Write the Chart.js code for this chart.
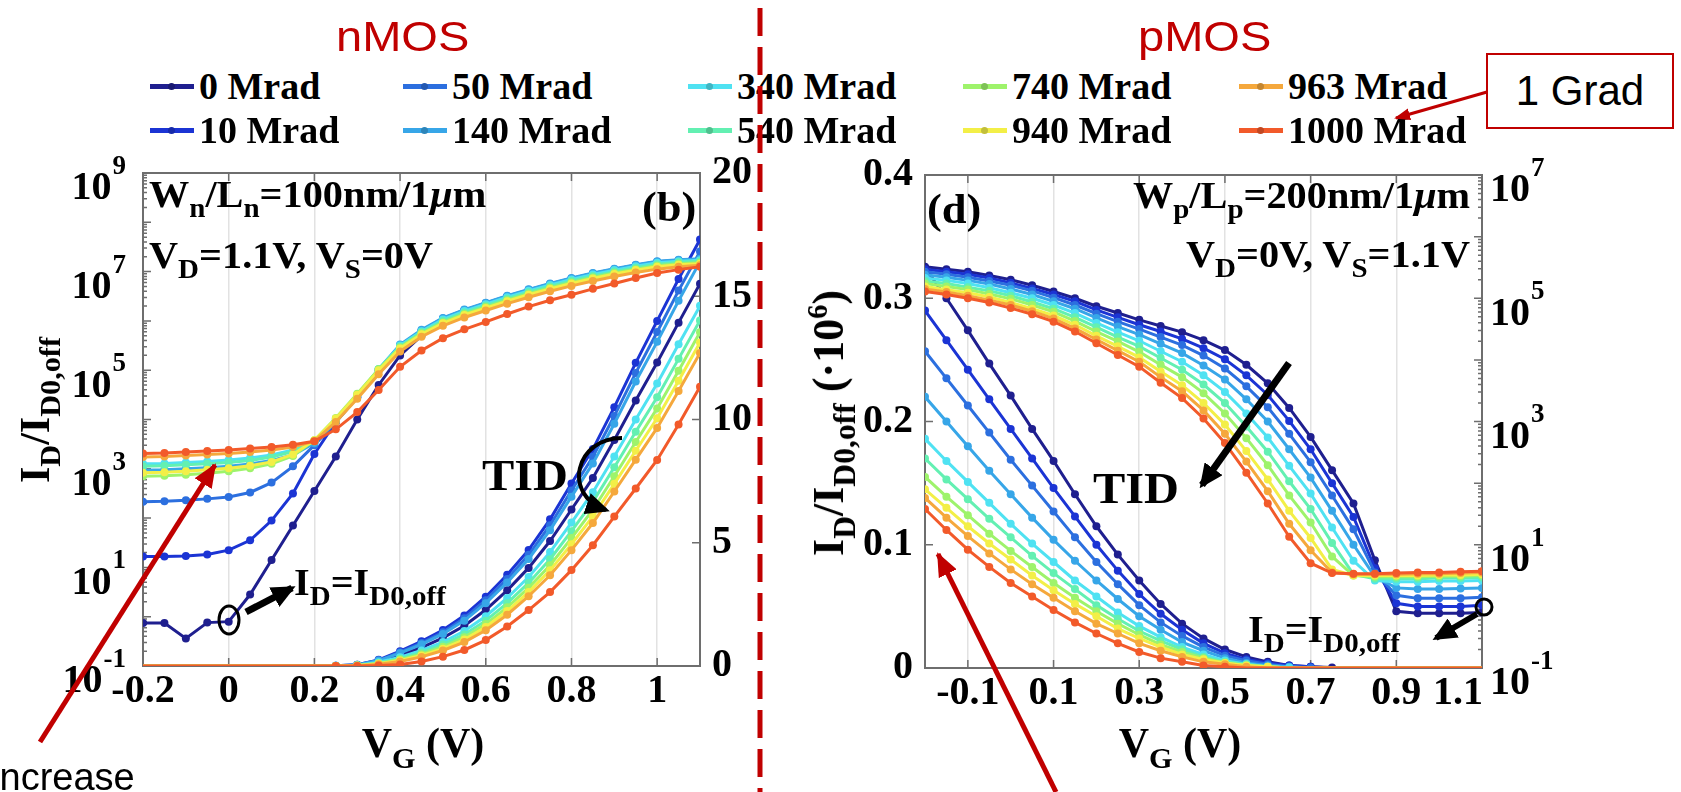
<!DOCTYPE html>
<html>
<head>
<meta charset="utf-8">
<script src="https://cdn.jsdelivr.net/npm/chart.js@4.4.1/dist/chart.umd.min.js"></script>
<style>
  html, body { margin: 0; padding: 0; background: #fff; }
  #page { position: relative; width: 1681px; height: 792px; overflow: hidden; background: #fff; }
  canvas { position: absolute; }
  .t { position: absolute; white-space: nowrap; line-height: 1; font-family: "Liberation Serif", "Times New Roman", serif; font-weight: bold; color: #000; }
  .t sub { font-size: 0.72em; vertical-align: -0.38em; line-height: 0; }
  .t sup { font-size: 0.65em; vertical-align: 0.55em; line-height: 0; }
  .st { transform: scaleX(1.06); transform-origin: left top; }
  .stR { transform: scaleX(1.06); transform-origin: right top; }
  .sans { font-family: "Liberation Sans", Arial, sans-serif; font-weight: normal; }
  .red { color: #c00000; }
  .lgLine { position: absolute; width: 44px; height: 5px; }
  .lgDot { position: absolute; width: 7px; height: 7px; border-radius: 50%; }
  #grad { position: absolute; left: 1486px; top: 53px; width: 184px; height: 72px; border: 2px solid #c00000; display: flex; align-items: center; justify-content: center; font-family: "Liberation Sans", Arial, sans-serif; font-size: 42px; }
  svg { position: absolute; left: 0; top: 0; }
</style>
</head>
<body>
<div id="page">
  <canvas id="nmosChart" width="770" height="642" style="left:0;top:150px"></canvas>
  <canvas id="pmosChart" width="911" height="642" style="left:770px;top:150px"></canvas>

  <div class="t sans red" style="left:336px;top:16px;font-size:42px;transform:scaleX(1.12);transform-origin:left top">nMOS</div>
  <div class="t sans red" style="left:1138px;top:16px;font-size:42px;transform:scaleX(1.12);transform-origin:left top">pMOS</div>

  <div id="legend"></div>

  <!-- nMOS texts -->
  <div class="t st" style="left:149px;top:175px;font-size:38px">W<sub>n</sub>/L<sub>n</sub>=100nm/1<i>μ</i>m</div>
  <div class="t st" style="left:149px;top:236px;font-size:38px">V<sub>D</sub>=1.1V, V<sub>S</sub>=0V</div>
  <div class="t st" style="left:642px;top:186px;font-size:42px">(b)</div>
  <div class="t" style="left:482px;top:454px;font-size:44px;transform:scaleX(1.1);transform-origin:left top">TID</div>
  <div class="t st" style="left:294px;top:563px;font-size:38px">I<sub>D</sub>=I<sub>D0,off</sub></div>
  <div class="t" style="left:35px;top:410px;font-size:42px;transform:translate(-50%,-50%) rotate(-90deg)">I<sub>D</sub>/I<sub>D0,off</sub></div>
  <div class="t" style="left:423px;top:722px;font-size:42px;transform:translateX(-50%)">V<sub>G</sub> (V)</div>

  <!-- pMOS texts -->
  <div class="t st" style="left:927px;top:188px;font-size:42px">(d)</div>
  <div class="t stR" style="right:211px;top:176px;font-size:38px">W<sub>p</sub>/L<sub>p</sub>=200nm/1<i>μ</i>m</div>
  <div class="t stR" style="right:211px;top:235px;font-size:38px">V<sub>D</sub>=0V, V<sub>S</sub>=1.1V</div>
  <div class="t" style="left:1093px;top:467px;font-size:44px;transform:scaleX(1.1);transform-origin:left top">TID</div>
  <div class="t st" style="left:1248px;top:610px;font-size:38px">I<sub>D</sub>=I<sub>D0,off</sub></div>
  <div class="t" style="left:829px;top:423px;font-size:44px;transform:translate(-50%,-50%) rotate(-90deg)">I<sub>D</sub>/I<sub>D0,off</sub> (·10<sup>6</sup>)</div>
  <div class="t" style="left:1180px;top:722px;font-size:42px;transform:translateX(-50%)">V<sub>G</sub> (V)</div>

  <div id="grad">1 Grad</div>
  <div class="t sans" style="left:-11px;top:758px;font-size:38px">Increase</div>

  <svg width="1681" height="792">
    <defs>
      <marker id="headRed" markerUnits="userSpaceOnUse" markerWidth="24" markerHeight="20" refX="22" refY="10" orient="auto">
        <path d="M0,0 L24,10 L0,20 z" fill="#c00000"/>
      </marker>
      <marker id="headRedSmall" markerUnits="userSpaceOnUse" markerWidth="16" markerHeight="12" refX="14" refY="6" orient="auto">
        <path d="M0,0 L16,6 L0,12 z" fill="#c00000"/>
      </marker>
      <marker id="headBlack" markerUnits="userSpaceOnUse" markerWidth="24" markerHeight="22" refX="20" refY="11" orient="auto">
        <path d="M0,0 L24,11 L0,22 z" fill="#000"/>
      </marker>
    </defs>
    <line x1="760" y1="8" x2="760" y2="792" stroke="#c00000" stroke-width="5" stroke-dasharray="28 11"/>
    <line x1="40" y1="742" x2="215" y2="465" stroke="#c00000" stroke-width="5" marker-end="url(#headRed)"/>
    <line x1="1056" y1="792" x2="938" y2="554" stroke="#c00000" stroke-width="5" marker-end="url(#headRed)"/>
    <line x1="1487" y1="92" x2="1396" y2="118" stroke="#c00000" stroke-width="3" marker-end="url(#headRedSmall)"/>
    <ellipse cx="229" cy="620" rx="10" ry="14" fill="none" stroke="#000" stroke-width="3"/>
    <line x1="246" y1="612" x2="292" y2="588" stroke="#000" stroke-width="7" marker-end="url(#headBlack)"/>
    <path d="M622 438 C 575 438, 562 495, 606 510" fill="none" stroke="#000" stroke-width="4" marker-end="url(#headBlack)"/>
    <line x1="1289" y1="363" x2="1202" y2="485" stroke="#000" stroke-width="7" marker-end="url(#headBlack)"/>
    <circle cx="1484" cy="607" r="8" fill="none" stroke="#000" stroke-width="3"/>
    <line x1="1477" y1="614" x2="1436" y2="638" stroke="#000" stroke-width="6" marker-end="url(#headBlack)"/>
  </svg>
</div>

<script>
// gate voltage points (V)
const vgVolts = [-0.2, -0.15, -0.1, -0.05, 0, 0.05, 0.1, 0.15, 0.2, 0.25, 0.3, 0.35, 0.4, 0.45, 0.5,
  0.55, 0.6, 0.65, 0.7, 0.75, 0.8, 0.85, 0.9, 0.95, 1, 1.05, 1.1];

const doseLabels = ['0 Mrad', '10 Mrad', '50 Mrad', '140 Mrad', '340 Mrad', '540 Mrad', '740 Mrad', '940 Mrad', '963 Mrad', '1000 Mrad'];
const doseColors = ['#1f1f8f', '#1b34d4', '#2c6fdf', '#37a6e8', '#4fe2f2', '#63f0b2', '#9ef36b', '#f3ef47', '#f5a83c', '#f25a2a'];

// nMOS, log10 of ID/ID0,off (left log axis), one row per dose
const nmosLogDecades = [
  [-0.13, -0.13, -0.44, -0.12, -0.10, 0.45, 1.15, 1.85, 2.55, 3.25, 4.0, 4.7, 5.3, 5.7, 6.0, 6.2, 6.34, 6.48, 6.6, 6.72, 6.83, 6.93, 7.02, 7.1, 7.17, 7.2, 7.22],
  [1.22, 1.22, 1.23, 1.26, 1.35, 1.55, 1.95, 2.5, 3.3, 3.95, 4.45, 5.0, 5.5, 5.8, 6.05, 6.22, 6.36, 6.5, 6.63, 6.75, 6.86, 6.96, 7.05, 7.13, 7.2, 7.23, 7.25],
  [2.33, 2.34, 2.36, 2.39, 2.43, 2.52, 2.72, 3.05, 3.48, 3.95, 4.45, 5.0, 5.5, 5.8, 6.04, 6.21, 6.35, 6.49, 6.62, 6.74, 6.85, 6.95, 7.04, 7.12, 7.19, 7.22, 7.24],
  [2.97, 2.98, 3.0, 3.02, 3.05, 3.1, 3.17, 3.28, 3.52, 3.96, 4.47, 5.02, 5.52, 5.82, 6.06, 6.23, 6.37, 6.51, 6.64, 6.76, 6.87, 6.97, 7.06, 7.14, 7.21, 7.24, 7.26],
  [3.10, 3.11, 3.13, 3.15, 3.18, 3.22, 3.28, 3.38, 3.56, 3.98, 4.48, 5.02, 5.5, 5.79, 6.03, 6.2, 6.34, 6.48, 6.61, 6.73, 6.84, 6.94, 7.03, 7.11, 7.18, 7.21, 7.23],
  [3.05, 3.06, 3.08, 3.1, 3.13, 3.17, 3.24, 3.35, 3.56, 4.0, 4.5, 5.02, 5.48, 5.77, 6.0, 6.17, 6.31, 6.45, 6.58, 6.7, 6.81, 6.91, 7.0, 7.08, 7.15, 7.19, 7.21],
  [2.85, 2.86, 2.88, 2.91, 2.95, 3.01, 3.1, 3.26, 3.58, 4.03, 4.52, 5.02, 5.46, 5.75, 5.97, 6.14, 6.28, 6.42, 6.55, 6.67, 6.78, 6.88, 6.97, 7.05, 7.12, 7.16, 7.18],
  [2.92, 2.93, 2.95, 2.98, 3.01, 3.06, 3.14, 3.29, 3.58, 4.02, 4.5, 5.0, 5.44, 5.73, 5.95, 6.12, 6.26, 6.4, 6.53, 6.65, 6.76, 6.86, 6.95, 7.03, 7.1, 7.14, 7.16],
  [3.24, 3.25, 3.27, 3.29, 3.31, 3.34, 3.38, 3.44, 3.56, 3.95, 4.42, 4.92, 5.38, 5.68, 5.9, 6.07, 6.21, 6.35, 6.48, 6.6, 6.71, 6.81, 6.9, 6.98, 7.05, 7.1, 7.13],
  [3.31, 3.32, 3.34, 3.36, 3.38, 3.41, 3.44, 3.49, 3.56, 3.8, 4.15, 4.6, 5.07, 5.4, 5.65, 5.83, 5.98, 6.14, 6.29, 6.42, 6.53, 6.65, 6.76, 6.87, 6.97, 7.04, 7.1]
];

// nMOS, ID/ID0,off on the right linear axis
const nmosLinear = [
  [0, 0, 0, 0, 0, 0, 0, 0, 0, 0.004, 0.03, 0.18, 0.44, 0.75, 1.14, 1.63, 2.28, 3.07, 3.98, 5.07, 6.35, 7.63, 9.17, 10.77, 12.31, 13.93, 15.51],
  [0, 0, 0, 0, 0, 0, 0, 0, 0, 0.008, 0.05, 0.25, 0.6, 1.0, 1.46, 2.05, 2.81, 3.7, 4.71, 5.95, 7.4, 8.8, 10.5, 12.3, 14.0, 15.7, 17.3],
  [0, 0, 0, 0, 0, 0, 0, 0, 0, 0.008, 0.05, 0.23, 0.56, 0.93, 1.37, 1.94, 2.67, 3.53, 4.51, 5.71, 7.12, 8.49, 10.14, 11.89, 13.55, 15.23, 16.82],
  [0, 0, 0, 0, 0, 0, 0, 0, 0, 0.007, 0.04, 0.22, 0.52, 0.88, 1.3, 1.84, 2.55, 3.39, 4.34, 5.51, 6.87, 8.22, 9.83, 11.54, 13.15, 14.82, 16.4],
  [0, 0, 0, 0, 0, 0, 0, 0, 0, 0.006, 0.03, 0.15, 0.36, 0.63, 0.97, 1.42, 2.02, 2.76, 3.61, 4.62, 5.82, 7.05, 8.5, 10.0, 11.46, 13.05, 14.61],
  [0, 0, 0, 0, 0, 0, 0, 0, 0, 0.005, 0.02, 0.12, 0.3, 0.55, 0.87, 1.28, 1.84, 2.55, 3.37, 4.33, 5.47, 6.66, 8.06, 9.5, 10.9, 12.46, 14.02],
  [0, 0, 0, 0, 0, 0, 0, 0, 0, 0.005, 0.02, 0.1, 0.26, 0.48, 0.78, 1.17, 1.7, 2.38, 3.17, 4.09, 5.19, 6.34, 7.7, 9.09, 10.45, 11.98, 13.54],
  [0, 0, 0, 0, 0, 0, 0, 0, 0, 0.004, 0.02, 0.09, 0.22, 0.43, 0.7, 1.07, 1.58, 2.23, 3.0, 3.88, 4.94, 6.07, 7.39, 8.73, 10.05, 11.57, 13.12],
  [0, 0, 0, 0, 0, 0, 0, 0, 0, 0.003, 0.01, 0.07, 0.18, 0.37, 0.63, 0.97, 1.45, 2.08, 2.83, 3.68, 4.7, 5.8, 7.08, 8.37, 9.66, 11.16, 12.7],
  [0, 0, 0, 0, 0, 0, 0, 0, 0, 0.002, 0.004, 0.02, 0.06, 0.18, 0.38, 0.65, 1.05, 1.6, 2.27, 3.0, 3.89, 4.9, 6.06, 7.2, 8.36, 9.8, 11.33]
];

// pMOS, ID/ID0,off (x1e6) on the left linear axis
const pmosLinear = [
  [0.325, 0.300, 0.274, 0.247, 0.221, 0.194, 0.168, 0.141, 0.115, 0.092, 0.071, 0.052, 0.036, 0.024, 0.015, 0.009, 0.005, 0.002, 0.001, 0.0004, 0, 0, 0, 0, 0, 0, 0],
  [0.290, 0.266, 0.242, 0.218, 0.194, 0.170, 0.146, 0.123, 0.100, 0.079, 0.060, 0.044, 0.031, 0.020, 0.012, 0.007, 0.004, 0.002, 0.001, 0, 0, 0, 0, 0, 0, 0, 0],
  [0.257, 0.235, 0.213, 0.191, 0.169, 0.148, 0.127, 0.106, 0.086, 0.068, 0.051, 0.037, 0.026, 0.017, 0.010, 0.006, 0.003, 0.001, 0.0005, 0, 0, 0, 0, 0, 0, 0, 0],
  [0.220, 0.200, 0.180, 0.160, 0.141, 0.122, 0.104, 0.087, 0.071, 0.056, 0.042, 0.031, 0.021, 0.014, 0.008, 0.004, 0.002, 0.001, 0, 0, 0, 0, 0, 0, 0, 0, 0],
  [0.186, 0.168, 0.151, 0.134, 0.117, 0.101, 0.086, 0.071, 0.058, 0.045, 0.034, 0.025, 0.017, 0.011, 0.006, 0.003, 0.001, 0.0005, 0, 0, 0, 0, 0, 0, 0, 0, 0],
  [0.170, 0.153, 0.137, 0.121, 0.106, 0.091, 0.077, 0.064, 0.051, 0.040, 0.030, 0.022, 0.015, 0.009, 0.005, 0.003, 0.001, 0, 0, 0, 0, 0, 0, 0, 0, 0, 0],
  [0.155, 0.139, 0.124, 0.109, 0.095, 0.082, 0.069, 0.057, 0.046, 0.036, 0.027, 0.019, 0.013, 0.008, 0.004, 0.002, 0.001, 0, 0, 0, 0, 0, 0, 0, 0, 0, 0],
  [0.145, 0.130, 0.115, 0.101, 0.088, 0.075, 0.063, 0.052, 0.042, 0.032, 0.024, 0.017, 0.011, 0.007, 0.004, 0.002, 0.001, 0, 0, 0, 0, 0, 0, 0, 0, 0, 0],
  [0.138, 0.122, 0.107, 0.093, 0.080, 0.068, 0.057, 0.046, 0.036, 0.028, 0.020, 0.014, 0.009, 0.005, 0.003, 0.001, 0, 0, 0, 0, 0, 0, 0, 0, 0, 0, 0],
  [0.129, 0.112, 0.096, 0.082, 0.069, 0.058, 0.047, 0.037, 0.028, 0.020, 0.013, 0.008, 0.005, 0.002, 0.001, 0, 0, 0, 0, 0, 0, 0, 0, 0, 0, 0, 0]
];

// pMOS, log10 of ID/ID0,off (right log axis)
const pmosLogDecades = [
  [5.51, 5.47, 5.43, 5.37, 5.30, 5.21, 5.11, 5.0, 4.87, 4.76, 4.65, 4.55, 4.45, 4.32, 4.16, 3.92, 3.62, 3.22, 2.75, 2.21, 1.67, 0.75, -0.08, -0.11, -0.11, -0.11, -0.1],
  [5.47, 5.43, 5.39, 5.33, 5.25, 5.16, 5.06, 4.95, 4.81, 4.69, 4.57, 4.46, 4.34, 4.19, 4.01, 3.75, 3.43, 3.01, 2.55, 2.0, 1.45, 0.62, 0.05, 0.0, 0.0, 0.0, 0.02],
  [5.43, 5.39, 5.34, 5.28, 5.21, 5.12, 5.01, 4.89, 4.75, 4.62, 4.50, 4.37, 4.24, 4.07, 3.86, 3.57, 3.23, 2.80, 2.34, 1.8, 1.25, 0.55, 0.18, 0.13, 0.13, 0.13, 0.15],
  [5.38, 5.34, 5.29, 5.23, 5.15, 5.06, 4.95, 4.83, 4.68, 4.54, 4.41, 4.26, 4.11, 3.91, 3.68, 3.36, 3.0, 2.55, 2.09, 1.55, 1.0, 0.48, 0.3, 0.28, 0.28, 0.29, 0.3],
  [5.33, 5.29, 5.24, 5.17, 5.09, 5.0, 4.89, 4.76, 4.6, 4.45, 4.31, 4.14, 3.97, 3.75, 3.48, 3.13, 2.74, 2.28, 1.83, 1.28, 0.74, 0.42, 0.4, 0.4, 0.41, 0.41, 0.42],
  [5.28, 5.24, 5.18, 5.12, 5.04, 4.94, 4.83, 4.69, 4.53, 4.37, 4.22, 4.03, 3.84, 3.60, 3.30, 2.92, 2.51, 2.03, 1.58, 1.03, 0.52, 0.45, 0.45, 0.45, 0.46, 0.46, 0.47],
  [5.24, 5.19, 5.14, 5.07, 4.99, 4.89, 4.78, 4.63, 4.46, 4.30, 4.13, 3.92, 3.72, 3.46, 3.13, 2.73, 2.29, 1.80, 1.36, 0.81, 0.5, 0.48, 0.48, 0.48, 0.49, 0.49, 0.5],
  [5.19, 5.14, 5.09, 5.02, 4.93, 4.83, 4.72, 4.57, 4.39, 4.22, 4.04, 3.81, 3.59, 3.30, 2.95, 2.52, 2.06, 1.55, 1.11, 0.6, 0.5, 0.5, 0.5, 0.5, 0.51, 0.51, 0.52],
  [5.15, 5.10, 5.04, 4.97, 4.89, 4.79, 4.67, 4.51, 4.33, 4.15, 3.97, 3.72, 3.49, 3.18, 2.80, 2.35, 1.87, 1.34, 0.91, 0.55, 0.52, 0.52, 0.52, 0.53, 0.53, 0.54, 0.55],
  [5.11, 5.06, 5.0, 4.93, 4.84, 4.74, 4.62, 4.46, 4.27, 4.08, 3.89, 3.63, 3.38, 3.05, 2.65, 2.17, 1.67, 1.13, 0.70, 0.54, 0.53, 0.53, 0.54, 0.55, 0.55, 0.56, 0.57]
];

// tick labels
const nmosXTicks = [-0.2, 0, 0.2, 0.4, 0.6, 0.8, 1];
const pmosXTicks = [-0.1, 0.1, 0.3, 0.5, 0.7, 0.9, 1.1];
const nmosLinTicks = [0, 5, 10, 15, 20];
const pmosLinTicks = [0, 0.1, 0.2, 0.3, 0.4];
const nmosLogExps = [-1, 1, 3, 5, 7, 9];
const pmosLogExps = [-1, 1, 3, 5, 7];

// legend (html)
const legendCols = [150, 403, 688, 963, 1239];
const legendRows = [86, 130];
const legend = document.getElementById('legend');
doseLabels.forEach(function (lab, k) {
  const x = legendCols[Math.floor(k / 2)], y = legendRows[k % 2];
  legend.insertAdjacentHTML('beforeend',
    '<div class="lgLine" style="left:' + x + 'px;top:' + (y - 2.5) + 'px;background:' + doseColors[k] + '"></div>' +
    '<div class="lgDot" style="left:' + (x + 18) + 'px;top:' + (y - 3.5) + 'px;background:' + doseColors[k] + ';filter:brightness(0.8)"></div>' +
    '<div class="t" style="left:' + (x + 49) + 'px;top:' + (y - 19) + 'px;font-size:38px">' + lab + '</div>');
});

const serif = '"Liberation Serif", "Times New Roman", serif';

function makeSets(rows, axisId, asLog) {
  return rows.map(function (vals, k) {
    return {
      label: doseLabels[k],
      data: vgVolts.map(function (v, i) { return { x: v, y: asLog ? Math.pow(10, vals[i]) : vals[i] }; }),
      yAxisID: axisId,
      borderColor: doseColors[k],
      backgroundColor: doseColors[k],
      borderWidth: 3,
      pointRadius: function (c) { return c.raw && c.raw.y > 0 ? 4 : 0; },
      pointBorderWidth: 0,
      order: 9 - k
    };
  });
}

// frame, inward ticks and 10^n labels (MATLAB look)
const axisDecor = {
  id: 'axisDecor',
  beforeDatasetsDraw(chart, args, o) {
    const ctx = chart.ctx, a = chart.chartArea;
    const xs = chart.scales.x, lg = chart.scales[o.logId], ln = chart.scales[o.linId];
    ctx.save();
    ctx.strokeStyle = '#6e6e6e';
    ctx.lineWidth = 1.5;
    ctx.beginPath();
    xs.ticks.forEach(function (t) {
      const px = xs.getPixelForValue(t.value);
      ctx.moveTo(px, a.bottom); ctx.lineTo(px, a.bottom - 8);
      ctx.moveTo(px, a.top); ctx.lineTo(px, a.top + 8);
    });
    const linX = o.logSide === 'left' ? a.right : a.left;
    const dir = o.logSide === 'left' ? -1 : 1;
    ln.ticks.forEach(function (t) {
      const py = ln.getPixelForValue(t.value);
      ctx.moveTo(linX, py); ctx.lineTo(linX + dir * 8, py);
    });
    const logX = o.logSide === 'left' ? a.left : a.right;
    for (let e = Math.round(Math.log10(lg.min)); e < Math.round(Math.log10(lg.max)); e++) {
      for (let m = 1; m < 10; m++) {
        const py = lg.getPixelForValue(m * Math.pow(10, e));
        ctx.moveTo(logX, py); ctx.lineTo(logX - dir * (m === 1 ? 8 : 4), py);
      }
    }
    ctx.stroke();
    ctx.lineWidth = 2;
    ctx.strokeRect(a.left, a.top, a.right - a.left, a.bottom - a.top);
    ctx.restore();
  },
  afterDraw(chart, args, o) {
    const ctx = chart.ctx, a = chart.chartArea, lg = chart.scales[o.logId];
    ctx.save();
    ctx.fillStyle = '#000';
    ctx.textBaseline = 'middle';
    o.exps.forEach(function (e) {
      const py = lg.getPixelForValue(Math.pow(10, e));
      ctx.font = 'bold 40px ' + serif;
      const wb = ctx.measureText('10').width;
      ctx.font = 'bold 27px ' + serif;
      const we = ctx.measureText(String(e)).width;
      const x0 = o.logSide === 'left' ? a.left - 18 - we - wb : a.right + 8;
      ctx.font = 'bold 40px ' + serif;
      ctx.fillText('10', x0, py + 16);
      ctx.font = 'bold 27px ' + serif;
      ctx.fillText(String(e), x0 + wb + 1, py - 6);
    });
    ctx.restore();
  }
};

function tickFont() { return { family: serif, size: 40, weight: 'bold' }; }

// keep the plot box where the picture has it (no extra room for edge labels)
function noEdgePad(s) { s.paddingTop = 0; s.paddingBottom = 0; }

// the last pMOS label sits left of its tick in the picture: pad it with trailing spaces
function xLabel(v) { return v === 1.1 ? '1.1\u2003\u2009' : String(v); }

function buildChart(id, o) {
  const scales = {
    x: {
      type: 'linear', min: -0.2, max: 1.1,
      afterBuildTicks: function (s) { s.ticks = o.xTicks.map(function (v) { return { value: v }; }); },
      afterFit: function (s) { s.height = o.xHeight; s.paddingLeft = 0; s.paddingRight = 0; },
      ticks: { color: '#000', font: tickFont(), padding: 2, maxRotation: 0, autoSkip: false, callback: xLabel },
      grid: { color: '#e2e2e2', lineWidth: 1.5, drawTicks: false },
      border: { display: false }
    }
  };
  scales[o.logId] = {
    type: 'logarithmic', position: o.logSide, min: o.logMin, max: o.logMax,
    afterFit: function (s) { s.width = o.logWidth; noEdgePad(s); },
    ticks: { display: false },
    grid: { display: false, drawTicks: false },
    border: { display: false }
  };
  scales[o.linId] = {
    type: 'linear', position: o.logSide === 'left' ? 'right' : 'left', min: o.linMin, max: o.linMax,
    afterBuildTicks: function (s) { s.ticks = o.linTicks.map(function (v) { return { value: v }; }); },
    afterFit: function (s) { s.width = o.linWidth; noEdgePad(s); },
    ticks: { color: '#000', font: tickFont(), padding: 12, callback: function (v) { return String(v); } },
    grid: { display: false, drawTicks: false },
    border: { display: false }
  };
  return new Chart(document.getElementById(id), {
    type: 'line',
    data: { datasets: o.sets },
    options: {
      responsive: false,
      animation: false,
      events: [],
      layout: { padding: { top: o.padTop, left: 0, right: 0, bottom: 0 } },
      scales: scales,
      plugins: {
        legend: { display: false },
        tooltip: { enabled: false },
        axisDecor: { logId: o.logId, linId: o.linId, logSide: o.logSide, exps: o.exps }
      }
    },
    plugins: [axisDecor]
  });
}

buildChart('nmosChart', {
  sets: makeSets(nmosLinear, 'yLin', false).concat(makeSets(nmosLogDecades, 'yLog', true)),
  xTicks: nmosXTicks, xHeight: 126, padTop: 23,
  logId: 'yLog', logSide: 'left', logMin: 0.1, logMax: 1e9, logWidth: 143, exps: nmosLogExps,
  linId: 'yLin', linMin: 0, linMax: 20, linWidth: 70, linTicks: nmosLinTicks
});

buildChart('pmosChart', {
  sets: makeSets(pmosLinear, 'yLin', false).concat(makeSets(pmosLogDecades, 'yLog', true)),
  xTicks: pmosXTicks, xHeight: 124, padTop: 25,
  logId: 'yLog', logSide: 'right', logMin: 0.1, logMax: 1e7, logWidth: 199, exps: pmosLogExps,
  linId: 'yLin', linMin: 0, linMax: 0.4, linWidth: 155, linTicks: pmosLinTicks
});
</script>
</body>
</html>
